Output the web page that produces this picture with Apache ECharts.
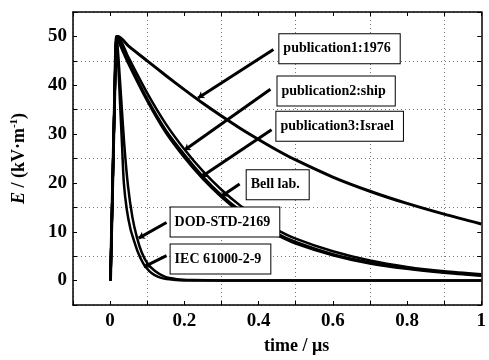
<!DOCTYPE html>
<html>
<head>
<meta charset="utf-8">
<script src="https://cdn.jsdelivr.net/npm/echarts@6/dist/echarts.min.js"></script>
<style>
html, body { margin: 0; padding: 0; background: #fff; }
#chart { width: 489px; height: 360px; }
</style>
</head>
<body>
<div id="chart"></div>
<script>
// waveforms: [time in us, E in kV/m]
const pub1976 = [[0.001, 0], [0.006, 17], [0.012, 37], [0.017, 50], [0.022, 50], [0.05, 48], [0.1, 45], [0.15, 42], [0.2, 39.1], [0.25, 36.3], [0.3, 33.7], [0.35, 31.2], [0.4, 28.9], [0.45, 26.7], [0.5, 24.7], [0.6, 21.2], [0.7, 18.3], [0.8, 15.8], [0.9, 13.6], [1, 11.6]];
const pubShip = [[0.001, 0], [0.006, 17], [0.012, 37], [0.017, 50], [0.019, 50], [0.05, 44.8], [0.1, 37.2], [0.15, 30.8], [0.2, 25.8], [0.25, 21.3], [0.3, 17.5], [0.35, 14.4], [0.4, 11.8], [0.45, 9.6], [0.5, 7.9], [0.6, 5.4], [0.7, 3.7], [0.8, 2.5], [0.9, 1.7], [1, 1.1]];
const pubIsrael = [[0.001, 0], [0.006, 17], [0.012, 37], [0.017, 50], [0.02, 50], [0.05, 45.6], [0.1, 38.4], [0.15, 32.1], [0.2, 26.9], [0.25, 22.4], [0.3, 18.6], [0.35, 15.4], [0.4, 12.7], [0.45, 10.4], [0.5, 8.6], [0.6, 6], [0.7, 4.1], [0.8, 2.8], [0.9, 1.9], [1, 1.3]];
const bellLab = [[0.001, 0], [0.006, 17], [0.012, 37], [0.017, 50], [0.018, 50], [0.05, 44.3], [0.1, 36.8], [0.15, 30.3], [0.2, 25.2], [0.25, 20.8], [0.3, 17.1], [0.35, 14], [0.4, 11.4], [0.45, 9.3], [0.5, 7.6], [0.6, 5.2], [0.7, 3.5], [0.8, 2.4], [0.9, 1.6], [1, 1]];
const dodStd = [[0.001, 0], [0.006, 17], [0.012, 37], [0.018, 50], [0.023, 45], [0.03, 37], [0.038, 28], [0.048, 19.5], [0.06, 13], [0.072, 8.9], [0.085, 5.8], [0.1, 3.6], [0.12, 2], [0.147, 0.8], [0.18, 0.3], [0.22, 0.1], [0.3, 0], [0.5, 0], [0.7, 0], [1, 0]];
const iec = [[0.001, 0], [0.006, 17], [0.012, 37], [0.017, 50], [0.022, 44], [0.027, 36], [0.032, 28], [0.037, 20], [0.045, 14.5], [0.055, 10.5], [0.063, 8.5], [0.075, 5.8], [0.09, 3.4], [0.105, 2], [0.12, 1.1], [0.14, 0.5], [0.17, 0.15], [0.2, 0], [0.5, 0], [1, 0]];

const seriesNames = ['publication1:1976', 'publication2:ship', 'publication3:Israel', 'Bell lab.', 'DOD-STD-2169', 'IEC 61000-2-9'];
const seriesData = [pub1976, pubShip, pubIsrael, bellLab, dodStd, iec];

const xLabels = [0, 0.2, 0.4, 0.6, 0.8, 1];
const yLabels = [0, 10, 20, 30, 40, 50];

// callouts: label box anchor (left middle), pointer start, pointer tip
const notes = [
    { text: 'publication1:1976', box: [0.456, 47.5], from: [0.44, 47.3], to: [0.237, 37.4] },
    { text: 'publication2:ship', box: [0.451, 38.8], from: [0.432, 39.2], to: [0.2, 26.7] },
    { text: 'publication3:Israel', box: [0.448, 31.6], from: [0.435, 30.9], to: [0.245, 21.2] },
    { text: 'Bell lab.', box: [0.368, 19.6], from: [0.349, 19.8], to: [0.299, 17.2] },
    { text: 'DOD-STD-2169', box: [0.163, 12], from: [0.152, 11.9], to: [0.077, 8.7] },
    { text: 'IEC 61000-2-9', box: [0.163, 4.4], from: [0.152, 5.1], to: [0.091, 2.8] }
];

const serif = "'Liberation Serif', 'Times New Roman', serif";
const dotted = { color: '#777', width: 1, type: [1, 3] };

const chart = echarts.init(document.getElementById('chart'));

const isLabel = (list, v) => list.some(l => Math.abs(l - v) < 1e-6);

const baseX = {
    type: 'value',
    min: -0.1,
    max: 1,
    interval: 0.1,
    axisLine: { onZero: false, lineStyle: { color: '#000', width: 1.5 } },
    axisTick: { inside: true, length: 4, lineStyle: { color: '#000' } }
};
const baseY = {
    type: 'value',
    min: -5,
    max: 55,
    interval: 5,
    axisLine: { onZero: false, lineStyle: { color: '#000', width: 1.5 } },
    axisTick: { inside: true, length: 4, lineStyle: { color: '#000' } }
};

const lines = seriesData.map((d, i) => ({
    name: seriesNames[i],
    type: 'line',
    data: d,
    showSymbol: false,
    symbol: 'none',
    smooth: 0.25,
    lineStyle: { color: '#000', width: i === 0 ? 3 : 2.5 },
    z: 3
}));

lines.push({
    type: 'line',
    data: [],
    silent: true,
    z: 5,
    markLine: {
        silent: true,
        animation: false,
        symbol: ['none', 'arrow'],
        symbolSize: 6,
        label: { show: false },
        lineStyle: { color: '#000', width: 3, type: 'solid' },
        data: notes.map(n => [{ coord: n.from }, { coord: n.to }])
    },
    markPoint: {
        silent: true,
        animation: false,
        symbol: 'rect',
        symbolSize: 0,
        data: notes.map(n => ({
            coord: n.box,
            label: {
                show: true,
                formatter: n.text,
                position: 'right',
                distance: 0,
                color: '#000',
                fontFamily: serif,
                fontWeight: 'bold',
                fontSize: 14,
                backgroundColor: '#fff',
                borderColor: '#000',
                borderWidth: 1,
                padding: [8, 9, 7, 4]
            }
        }))
    }
});

chart.setOption({
    animation: false,
    backgroundColor: '#fff',
    grid: { left: 73, right: 6, top: 12, bottom: 52 },
    xAxis: [
        Object.assign({}, baseX, {
            position: 'bottom',
            name: 'time / μs',
            nameLocation: 'middle',
            nameGap: 32,
            nameTextStyle: { color: '#000', fontFamily: serif, fontWeight: 'bold', fontSize: 18, padding: [0, 0, 0, 39] },
            axisLabel: {
                color: '#000', fontFamily: serif, fontWeight: 'bold', fontSize: 19, margin: 7,
                formatter: v => isLabel(xLabels, v) ? String(+v.toFixed(1)) : ''
            },
            splitLine: { show: true, lineStyle: Object.assign({}, dotted, { color: ['#777', 'transparent'] }) }
        }),
        Object.assign({}, baseX, {
            position: 'top',
            axisLabel: { show: false },
            splitLine: { show: false }
        })
    ],
    yAxis: [
        Object.assign({}, baseY, {
            position: 'left',
            name: '{i|E}{n| / (kV·m}{s|-1}{n|)}',
            nameLocation: 'middle',
            nameGap: 44,
            nameTextStyle: {
                color: '#000',
                fontFamily: serif,
                fontWeight: 'bold',
                fontSize: 18,
                rich: {
                    i: { fontFamily: serif, fontWeight: 'bold', fontStyle: 'italic', fontSize: 18, color: '#000', lineHeight: 20 },
                    n: { fontFamily: serif, fontWeight: 'bold', fontSize: 18, color: '#000', lineHeight: 20 },
                    s: { fontFamily: serif, fontWeight: 'bold', fontSize: 11, color: '#000', verticalAlign: 'top', lineHeight: 20 }
                }
            },
            axisLabel: {
                color: '#000', fontFamily: serif, fontWeight: 'bold', fontSize: 19, margin: 6,
                formatter: v => isLabel(yLabels, v) ? String(v) : ''
            },
            splitLine: { show: true, lineStyle: Object.assign({}, dotted, { color: ['#777', 'transparent'] }) }
        }),
        Object.assign({}, baseY, {
            position: 'right',
            axisLabel: { show: false },
            splitLine: { show: false }
        })
    ],
    series: lines
});
</script>
</body>
</html>
